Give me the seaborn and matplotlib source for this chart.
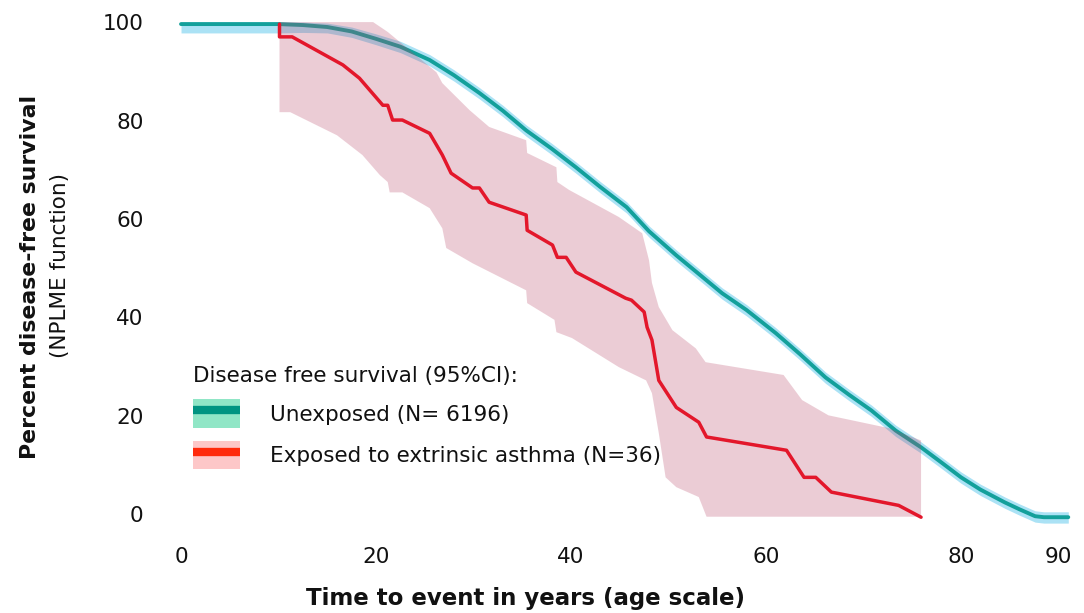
import numpy as np
import pandas as pd
import seaborn as sns
import matplotlib
matplotlib.use("Agg")
import matplotlib.pyplot as plt
from matplotlib.patches import Patch
from matplotlib.lines import Line2D
from matplotlib.legend_handler import HandlerTuple

# ---------------- data ----------------
unexp_x = [0, 5, 10, 12.5, 15, 17.5, 20, 22.5, 25.5, 28, 30.6, 33, 35.4, 38, 40.5, 43,
           45.7, 48, 50.8, 53, 55.5, 58, 61, 63.5, 66.1, 68.5, 70.8, 73.3, 75.9, 78,
           80, 82, 84.5, 86, 87.6, 88.5, 91.0]
unexp_y = [99.6, 99.6, 99.6, 99.4, 99.0, 98.1, 96.6, 95.0, 92.3, 89.2, 85.6, 82.0, 78.0,
           74.3, 70.5, 66.5, 62.4, 57.5, 52.6, 49.0, 44.9, 41.5, 36.8, 32.5, 27.8, 24.3,
           21.1, 17.0, 13.6, 10.5, 7.5, 5.0, 2.4, 1.0, -0.4, -0.6, -0.6]
unexp_hi = [100.0, 100.0, 100.0, 100.0, 99.8, 99.0, 97.6, 96.1, 93.4, 90.3, 86.7, 83.1,
            79.1, 75.4, 71.6, 67.6, 63.5, 58.6, 53.7, 50.1, 46.0, 42.6, 37.9, 33.6, 28.9,
            25.4, 22.2, 18.1, 14.7, 11.6, 8.6, 6.1, 3.5, 2.1, 0.7, 0.5, 0.5]
unexp_lo = [97.8, 97.8, 97.8, 97.9, 97.8, 96.9, 95.4, 93.8, 91.1, 88.0, 84.4, 80.8, 76.8,
            73.1, 69.3, 65.3, 61.2, 56.3, 51.4, 47.8, 43.7, 40.3, 35.6, 31.3, 26.6, 23.1,
            19.9, 15.8, 12.4, 9.3, 6.3, 3.8, 1.2, -0.2, -1.6, -1.8, -1.8]

exp_x = [10.1, 10.1, 11.4, 16.6, 18.3, 20.7, 21.2, 21.7, 22.7, 25.5, 26.8, 27.7, 29.9,
         30.6, 31.6, 35.4, 35.5, 38.1, 38.6, 39.5, 40.5, 45.6, 46.2, 47.5, 47.8, 48.3,
         49.0, 50.8, 53.1, 53.9, 62.1, 63.9, 65.1, 66.7, 73.6, 75.9]
exp_y = [99.6, 97.0, 97.0, 91.3, 88.6, 83.1, 83.1, 80.1, 80.1, 77.4, 73.0, 69.3, 66.3,
         66.3, 63.4, 60.8, 57.7, 54.7, 52.2, 52.2, 49.2, 43.9, 43.5, 41.1, 38.0, 35.4,
         27.2, 21.7, 18.7, 15.7, 13.0, 7.5, 7.5, 4.5, 1.8, -0.6]

exp_hi_x = [10.1, 19.7, 21.2, 26.2, 26.8, 29.6, 31.6, 35.4, 35.5, 38.5, 38.6, 39.8, 44.9,
            47.3, 48.0, 48.3, 49.0, 50.4, 52.8, 53.8, 61.8, 63.7, 66.4, 72.6, 75.9]
exp_hi = [100.0, 100.0, 98.0, 89.8, 87.6, 82.1, 78.7, 76.0, 73.4, 70.5, 67.5, 65.9, 60.4,
          57.1, 51.6, 47.0, 42.1, 37.4, 33.7, 30.9, 28.3, 23.2, 20.1, 17.5, 15.0]
exp_lo_x = [10.1, 11.2, 16.0, 18.6, 20.4, 21.2, 21.4, 22.7, 25.5, 26.8, 27.2, 29.9, 35.4,
            35.5, 38.3, 38.5, 40.1, 44.9, 47.7, 48.3, 49.0, 49.7, 50.8, 53.1, 53.9, 75.9]
exp_lo = [81.7, 81.7, 77.0, 73.0, 68.9, 67.5, 65.4, 65.4, 62.2, 58.1, 54.1, 51.0, 45.5,
          42.9, 39.5, 37.0, 35.8, 29.9, 27.2, 24.6, 16.5, 7.5, 5.5, 3.5, -0.5, -0.5]

x_ticks = [0, 20, 40, 60, 80, 90]
y_ticks = [0, 20, 40, 60, 80, 100]
legend_title = "Disease free survival (95%CI):"
label_unexp = "Unexposed (N= 6196)"
label_exp = "Exposed to extrinsic asthma (N=36)"

# ---------------- style ----------------
TEAL = "#13a09b"
TEAL_BAND = "#abe2f5"
RED = "#e3172b"
PINK = (0.72, 0.27, 0.40)
LEG_GREEN = "#90e6c6"
LEG_TEAL = "#009481"
LEG_PINK = "#fdc7c8"
LEG_RED = "#ff2a0c"
TXT = "#111111"

sns.set_style("white")
plt.rcParams["font.family"] = ["DejaVu Sans"]
plt.rcParams["text.color"] = TXT

fig = plt.figure(figsize=(10.84, 6.13), dpi=100)
ax = fig.add_axes([0.158, 0.137, 0.832, 0.843])

df_u = pd.DataFrame({"x": unexp_x, "y": unexp_y})
df_e = pd.DataFrame({"x": exp_x, "y": exp_y})

ax.fill_between(unexp_x, unexp_lo, unexp_hi, color=TEAL_BAND, lw=0, zorder=1)
sns.lineplot(data=df_u, x="x", y="y", ax=ax, color=TEAL, lw=2.8, sort=False,
             estimator=None, zorder=2)
band_x = list(exp_hi_x) + list(exp_lo_x)[::-1]
band_y = list(exp_hi) + list(exp_lo)[::-1]
ax.fill(band_x, band_y, color=PINK, alpha=0.27, lw=0, zorder=3)
sns.lineplot(data=df_e, x="x", y="y", ax=ax, color=RED, lw=2.5, sort=False,
             estimator=None, zorder=4)

ax.set_xlim(-1, 91.5)
ax.set_ylim(-3, 102)
ax.set_xticks(x_ticks)
ax.set_yticks(y_ticks)
ax.tick_params(axis="both", length=0, labelsize=15.5, colors=TXT)
ax.tick_params(axis="y", pad=20)
ax.tick_params(axis="x", pad=13)
for s in ax.spines.values():
    s.set_visible(False)
ax.set_xlabel("")
ax.set_ylabel("")

fig.text(525 / 1084, 1 - 598 / 613, "Time to event in years (age scale)",
         ha="center", va="center", fontsize=16.5, fontweight="bold", color=TXT)
fig.text(30 / 1084, 1 - 277 / 613, "Percent disease-free survival", rotation=90,
         ha="center", va="center", fontsize=15.8, fontweight="bold", color=TXT)
fig.text(60 / 1084, 1 - 265 / 613, "(NPLME function)", rotation=90,
         ha="center", va="center", fontsize=15.5, color=TXT)

h1 = (Patch(facecolor=LEG_GREEN, edgecolor="none"),
      Line2D([], [], color=LEG_TEAL, lw=6, solid_capstyle="butt"))
h2 = (Patch(facecolor=LEG_PINK, edgecolor="none"),
      Line2D([], [], color=LEG_RED, lw=6, solid_capstyle="butt"))
leg = ax.legend([h1, h2], [label_unexp, label_exp], title=legend_title,
                handler_map={tuple: HandlerTuple(ndivide=1, pad=0)},
                loc="upper left", bbox_to_anchor=(193 / 1084, 1 - 366 / 613),
                bbox_transform=fig.transFigure, frameon=False, fontsize=15.5,
                title_fontsize=15.5, handlelength=2.2, handleheight=1.65,
                handletextpad=1.4, labelspacing=0.62, borderpad=0, borderaxespad=0,
                alignment="left", labelcolor=TXT)
leg.get_title().set_color(TXT)
leg._legend_handle_box.sep = 10
leg.set_zorder(5)

fig.savefig("out.png", dpi=100)
